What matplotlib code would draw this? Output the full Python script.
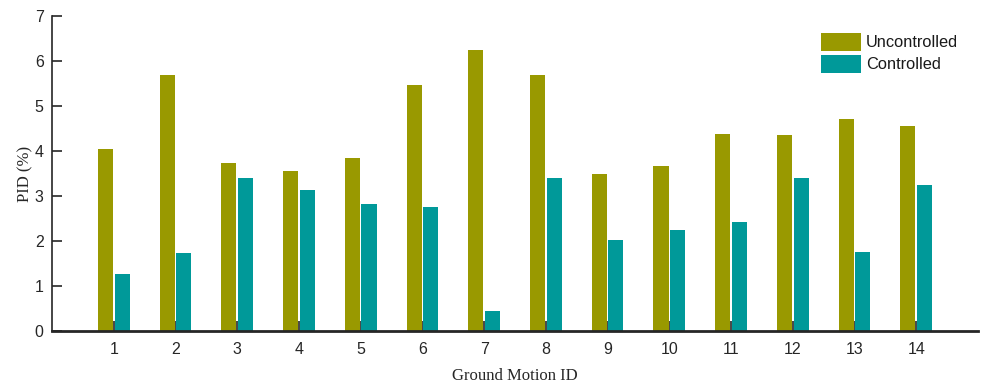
import matplotlib
matplotlib.use("Agg")
import matplotlib.pyplot as plt
import numpy as np

# Peak inter-story drift per ground motion record
motion_ids = list(range(1, 15))
uncontrolled = [4.04, 5.68, 3.73, 3.56, 3.84, 5.47, 6.24, 5.69, 3.49, 3.67, 4.38, 4.36, 4.71, 4.56]
controlled = [1.27, 1.73, 3.40, 3.13, 2.82, 2.76, 0.44, 3.40, 2.02, 2.24, 2.42, 3.40, 1.76, 3.24]
series_labels = ["Uncontrolled", "Controlled"]
y_ticks = [0, 1, 2, 3, 4, 5, 6, 7]

olive = "#999900"
teal = "#009999"
ink = "#262626"

fig = plt.figure(figsize=(9.81, 3.87), dpi=100)
ax = fig.add_axes([52 / 981, 1 - 331 / 387, (978 - 52) / 981, (331 - 16) / 387])

x = np.array(motion_ids, dtype=float)
width = 0.245
offset = 0.135
ax.bar(x - offset, uncontrolled, width, color=olive, label=series_labels[0], zorder=3)
ax.bar(x + offset, controlled, width, color=teal, label=series_labels[1], zorder=3)

ax.set_xlim(0, 15)
ax.set_ylim(0, 7)
ax.set_xticks(motion_ids)
ax.set_yticks(y_ticks)

for side in ("top", "right"):
    ax.spines[side].set_visible(False)
ax.spines["left"].set_color(ink)
ax.spines["left"].set_linewidth(1.2)
ax.spines["bottom"].set_color(ink)
ax.spines["bottom"].set_linewidth(2.0)
ax.spines["bottom"].set_zorder(4)

tick_family = ["Liberation Sans", "DejaVu Sans"]
ax.tick_params(axis="both", direction="in", color=ink, labelcolor=ink, width=1.2)
ax.tick_params(axis="x", length=7, pad=8)
ax.tick_params(axis="y", length=7, pad=6)
for lbl in ax.get_xticklabels() + ax.get_yticklabels():
    lbl.set_fontfamily(tick_family)
    lbl.set_fontsize(11.5)

label_font = dict(family=["Liberation Serif", "DejaVu Serif"], size=12, color=ink)
ax.set_xlabel("Ground Motion ID", labelpad=8, **label_font)
ax.set_ylabel("PID (%)", labelpad=1, **label_font)

leg = ax.legend(
    loc="upper left",
    bbox_to_anchor=(821 / 981, 1 - 33 / 387),
    bbox_transform=fig.transFigure,
    frameon=False,
    borderpad=0,
    borderaxespad=0,
    handlelength=2.45,
    handleheight=1.3,
    handletextpad=0.3,
    labelspacing=0.25,
    prop=dict(family=tick_family, size=11.8),
)
for t in leg.get_texts():
    t.set_color("#1a1a1a")

fig.savefig("out.png", dpi=100)
